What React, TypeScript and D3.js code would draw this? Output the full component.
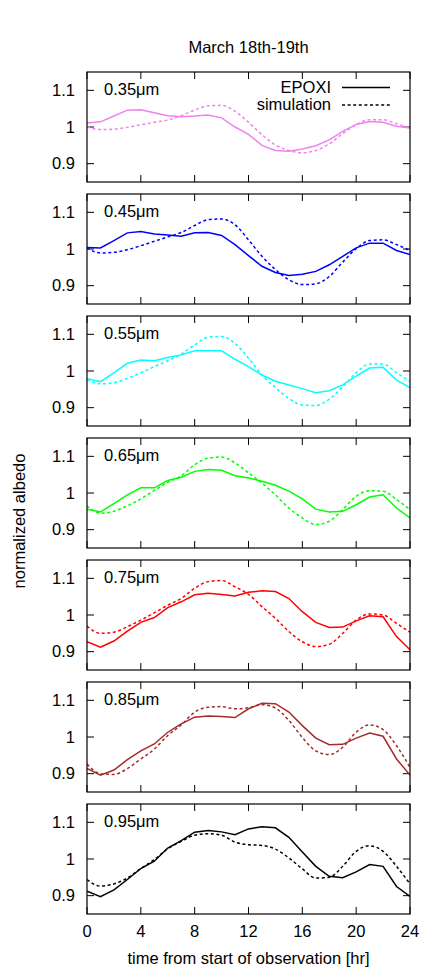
import React, { useRef, useEffect } from "react";
import * as d3 from "d3";

const width = 436;
const height = 976;
const margin = { left: 87, right: 26 };
const panelTop = 72;
const panelHeight = 110;
const panelStep = 122;

const hours = d3.range(0, 25);
const xTicks = [0, 4, 8, 12, 16, 20, 24];
const yTicks = [0.9, 1, 1.1];
const yTickLabels = ["0.9", "1", "1.1"];

const bands = ["0.35μm", "0.45μm", "0.55μm", "0.65μm", "0.75μm", "0.85μm", "0.95μm"];
const colors = ["#ee82ee", "#0000ff", "#00ffff", "#00ff00", "#ff0000", "#a52a2a", "#000000"];

// EPOXI observations, one value per hour
const epoxi = [
  [1.011, 1.014, 1.03, 1.046, 1.047, 1.039, 1.031, 1.028, 1.03, 1.033, 1.025, 1.0, 0.98, 0.95, 0.936, 0.934, 0.94, 0.949, 0.965, 0.988, 1.007, 1.015, 1.013, 1.002, 0.997],
  [1.004, 1.003, 1.023, 1.044, 1.048, 1.041, 1.038, 1.035, 1.044, 1.045, 1.037, 1.012, 0.982, 0.953, 0.936, 0.928, 0.931, 0.939, 0.957, 0.98, 1.003, 1.016, 1.016, 0.996, 0.985],
  [0.979, 0.971, 0.995, 1.021, 1.03, 1.028, 1.037, 1.044, 1.055, 1.055, 1.055, 1.032, 1.012, 0.989, 0.972, 0.962, 0.952, 0.941, 0.946, 0.962, 0.986, 1.008, 1.01, 0.975, 0.955],
  [0.956, 0.948, 0.971, 0.995, 1.014, 1.014, 1.034, 1.043, 1.059, 1.064, 1.062, 1.047, 1.041, 1.032, 1.021, 1.005, 0.984, 0.956, 0.948, 0.95, 0.968, 0.989, 0.995, 0.959, 0.932],
  [0.927, 0.912, 0.929, 0.956, 0.98, 0.993, 1.02, 1.036, 1.055, 1.059, 1.056, 1.052, 1.062, 1.066, 1.064, 1.045, 1.009, 0.98, 0.966, 0.967, 0.984, 0.998, 0.995, 0.941, 0.905],
  [0.914, 0.896, 0.91, 0.938, 0.962, 0.981, 1.013, 1.036, 1.054, 1.057, 1.056, 1.053, 1.077, 1.092, 1.091, 1.068, 1.031, 0.997, 0.979, 0.98, 0.997, 1.011, 1.002, 0.94, 0.896],
  [0.912, 0.897, 0.916, 0.944, 0.974, 0.994, 1.03, 1.05, 1.073, 1.078, 1.074, 1.066, 1.082, 1.088, 1.085, 1.059, 1.019, 0.98, 0.953, 0.949, 0.965, 0.985, 0.98, 0.925, 0.898],
];

// simulated light curves, one value per hour
const simulation = [
  [1.0, 0.993, 0.994, 0.999, 1.006, 1.013, 1.019, 1.031, 1.046, 1.058, 1.059, 1.043, 1.013, 0.979, 0.951, 0.936, 0.93, 0.936, 0.954, 0.982, 1.006, 1.02, 1.02, 1.009, 0.997],
  [1.003, 0.989, 0.991, 0.998, 1.009, 1.021, 1.033, 1.045, 1.064, 1.08, 1.082, 1.066, 1.025, 0.98, 0.944, 0.916, 0.903, 0.905, 0.925, 0.964, 1.001, 1.023, 1.025, 1.012, 0.996],
  [0.977, 0.965, 0.968, 0.98, 0.995, 1.012, 1.028, 1.046, 1.071, 1.092, 1.094, 1.075, 1.035, 0.989, 0.955, 0.925, 0.907, 0.906, 0.923, 0.957, 0.995, 1.019, 1.019, 0.995, 0.971],
  [0.965, 0.945, 0.95, 0.965, 0.984, 1.007, 1.029, 1.047, 1.077, 1.095, 1.098, 1.082, 1.055, 1.027, 0.995, 0.959, 0.932, 0.914, 0.923, 0.955, 0.991, 1.006, 1.005, 0.982, 0.955],
  [0.97, 0.95, 0.953, 0.968, 0.986, 1.006, 1.027, 1.045, 1.073, 1.091, 1.094, 1.077, 1.056, 1.023, 0.991, 0.955, 0.927, 0.914, 0.92, 0.95, 0.986, 1.003, 1.0, 0.977, 0.953],
  [0.926, 0.9, 0.898, 0.914, 0.94, 0.967, 1.004, 1.033, 1.068, 1.081, 1.083, 1.077, 1.08, 1.088, 1.079, 1.045, 0.999, 0.962, 0.952, 0.972, 1.013, 1.033, 1.02, 0.976, 0.917],
  [0.944, 0.926, 0.932, 0.948, 0.974, 0.998, 1.028, 1.048, 1.065, 1.069, 1.065, 1.046, 1.039, 1.037, 1.027, 1.003, 0.973, 0.948, 0.95, 0.98, 1.021, 1.036, 1.021, 0.98, 0.932],
];

const font = "16.5px Liberation Sans, Arial, Helvetica, sans-serif";

const App = () => {
  const svgRef = useRef(null);

  useEffect(() => {
    document.body.style.margin = "0";
    const svg = d3.select(svgRef.current);
    svg.selectAll("*").remove();

    const x = d3.scaleLinear().domain([0, 24]).range([margin.left, width - margin.right]);
    const tick = 7;

    svg
      .append("text")
      .attr("x", (x(0) + x(24)) / 2)
      .attr("y", 53)
      .attr("text-anchor", "middle")
      .style("font", font)
      .text("March 18th-19th");

    bands.forEach((band, i) => {
      const top = panelTop + i * panelStep;
      const y = d3.scaleLinear().domain([0.85, 1.15]).range([top + panelHeight, top]);
      const g = svg.append("g");

      // ticks, mirrored on all four sides
      xTicks.forEach((t) => {
        g.append("line").attr("x1", x(t)).attr("x2", x(t)).attr("y1", top).attr("y2", top + tick);
        g.append("line").attr("x1", x(t)).attr("x2", x(t)).attr("y1", top + panelHeight).attr("y2", top + panelHeight - tick);
      });
      yTicks.forEach((v, k) => {
        g.append("line").attr("x1", x(0)).attr("x2", x(0) + tick).attr("y1", y(v)).attr("y2", y(v));
        g.append("line").attr("x1", x(24)).attr("x2", x(24) - tick).attr("y1", y(v)).attr("y2", y(v));
        g.append("text")
          .attr("x", 75)
          .attr("y", y(v) + 5.5)
          .attr("text-anchor", "end")
          .style("font", font)
          .text(yTickLabels[k]);
      });
      g.selectAll("line").attr("stroke", "#000").attr("stroke-width", 1);

      const clipId = `clip${i}`;
      g.append("clipPath")
        .attr("id", clipId)
        .append("rect")
        .attr("x", x(0))
        .attr("y", top)
        .attr("width", x(24) - x(0))
        .attr("height", panelHeight);

      const line = d3.line().x((d, j) => x(hours[j])).y((d) => y(d));

      g.append("path")
        .attr("clip-path", `url(#${clipId})`)
        .attr("d", line.curve(d3.curveMonotoneX)(simulation[i]))
        .attr("fill", "none")
        .attr("stroke", colors[i])
        .attr("stroke-width", 1.5)
        .attr("stroke-dasharray", "3,2.6");

      g.append("path")
        .attr("clip-path", `url(#${clipId})`)
        .attr("d", line.curve(d3.curveLinear)(epoxi[i]))
        .attr("fill", "none")
        .attr("stroke", colors[i])
        .attr("stroke-width", 1.5);

      g.append("rect")
        .attr("x", x(0))
        .attr("y", top)
        .attr("width", x(24) - x(0))
        .attr("height", panelHeight)
        .attr("fill", "none")
        .attr("stroke", "#000")
        .attr("stroke-width", 1.2);

      g.append("text")
        .attr("x", 104)
        .attr("y", top + 23)
        .style("font", font)
        .text(band);

      if (i === 0) {
        g.append("text")
          .attr("x", 331)
          .attr("y", top + 21)
          .attr("text-anchor", "end")
          .style("font", font)
          .text("EPOXI");
        g.append("line")
          .attr("x1", 342).attr("x2", 390)
          .attr("y1", top + 15.5).attr("y2", top + 15.5)
          .attr("stroke", "#000").attr("stroke-width", 1.5);
        g.append("text")
          .attr("x", 331)
          .attr("y", top + 37.5)
          .attr("text-anchor", "end")
          .style("font", font)
          .text("simulation");
        g.append("line")
          .attr("x1", 342).attr("x2", 390)
          .attr("y1", top + 33).attr("y2", top + 33)
          .attr("stroke", "#000").attr("stroke-width", 1.5)
          .attr("stroke-dasharray", "3,2.6");
      }

      if (i === bands.length - 1) {
        xTicks.forEach((t) => {
          g.append("text")
            .attr("x", x(t))
            .attr("y", top + panelHeight + 23)
            .attr("text-anchor", "middle")
            .style("font", font)
            .text(t);
        });
      }
    });

    svg
      .append("text")
      .attr("x", (x(0) + x(24)) / 2)
      .attr("y", 964)
      .attr("text-anchor", "middle")
      .style("font", font)
      .text("time from start of observation [hr]");

    svg
      .append("text")
      .attr("transform", "translate(25,521) rotate(-90)")
      .attr("text-anchor", "middle")
      .style("font", font)
      .text("normalized albedo");
  }, []);

  return <svg ref={svgRef} width={width} height={height} style={{ display: "block", background: "#fff" }} />;
};

export default App;
